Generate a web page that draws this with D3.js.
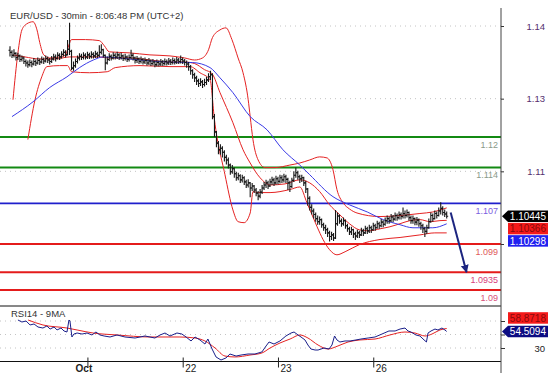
<!DOCTYPE html>
<html><head><meta charset="utf-8">
<script src="https://cdn.jsdelivr.net/npm/d3@7"></script>
<style>
html,body{margin:0;padding:0;background:#fff;}
svg{display:block;font-family:"Liberation Sans",Arial,sans-serif;}
</style></head><body>
<svg id="c" width="555" height="383"></svg>
<script>
// ---------- DATA ----------
const chartTitle = "EUR/USD - 30min - 8:06:48 PM (UTC+2)";
const rsiTitle = "RSI14 - 9MA";
const firstOpen = 1.1370;
const barClose = [
1.1366,1.1360,1.1364,1.1356,1.1359,1.1352,1.1355,1.1348,1.1345,1.1342,
1.1346,1.1343,1.1348,1.1345,1.1350,1.1347,1.1352,1.1349,1.1354,1.1351,
1.1348,1.1353,1.1357,1.1354,1.1360,1.1357,1.1362,1.1366,1.1361,1.1372,
1.1368,1.1335,1.1340,1.1348,1.1355,1.1358,1.1356,1.1360,1.1357,1.1361,
1.1358,1.1362,1.1359,1.1363,1.1360,1.1366,1.1371,1.1360,1.1345,1.1352,
1.1358,1.1355,1.1360,1.1357,1.1361,1.1356,1.1359,1.1354,1.1357,1.1352,
1.1356,1.1360,1.1355,1.1350,1.1353,1.1348,1.1352,1.1347,1.1350,1.1345,
1.1349,1.1344,1.1347,1.1342,1.1346,1.1343,1.1347,1.1344,1.1348,1.1345,
1.1349,1.1346,1.1350,1.1347,1.1351,1.1348,1.1352,1.1349,1.1346,1.1343,
1.1338,1.1330,1.1322,1.1316,1.1310,1.1305,1.1308,1.1303,1.1307,1.1312,
1.1318,1.1322,1.1240,1.1210,1.1188,1.1175,1.1178,1.1170,1.1160,1.1155,
1.1145,1.1132,1.1138,1.1128,1.1120,1.1124,1.1116,1.1120,1.1112,1.1106,
1.1110,1.1100,1.1104,1.1096,1.1090,1.1084,1.1092,1.1100,1.1106,1.1110,
1.1104,1.1112,1.1116,1.1110,1.1118,1.1113,1.1120,1.1116,1.1122,1.1117,
1.1110,1.1103,1.1115,1.1125,1.1130,1.1122,1.1118,1.1120,1.1110,1.1098,
1.1080,1.1062,1.1055,1.1048,1.1040,1.1034,1.1038,1.1028,1.1022,1.1018,
1.1012,1.1005,1.1008,1.1002,1.1030,1.1045,1.1035,1.1030,1.1036,1.1026,
1.1020,1.1014,1.1018,1.1010,1.1006,1.1012,1.1008,1.1016,1.1012,1.1020,
1.1016,1.1022,1.1018,1.1026,1.1022,1.1030,1.1026,1.1033,1.1029,1.1036,
1.1040,1.1036,1.1043,1.1039,1.1046,1.1042,1.1048,1.1044,1.1050,1.1046,
1.1052,1.1042,1.1036,1.1040,1.1033,1.1037,1.1030,1.1026,1.1020,1.1015,
1.1022,1.1034,1.1046,1.1040,1.1050,1.1046,1.1055,1.1060,1.1052,1.1049,
1.10445];
const barHigh = [
1.1378,1.1370,1.1372,1.1366,1.1365,1.1362,1.1360,1.1358,1.1352,1.1350,
1.1352,1.1350,1.1355,1.1352,1.1356,1.1354,1.1358,1.1356,1.1360,1.1358,
1.1355,1.1359,1.1363,1.1362,1.1366,1.1364,1.1368,1.1372,1.1370,1.1390,
1.1424,1.1371,1.1348,1.1354,1.1360,1.1364,1.1363,1.1366,1.1364,1.1367,
1.1365,1.1368,1.1366,1.1369,1.1367,1.1380,1.1382,1.1373,1.1362,1.1358,
1.1364,1.1362,1.1366,1.1364,1.1367,1.1364,1.1365,1.1362,1.1363,1.1360,
1.1362,1.1371,1.1364,1.1358,1.1359,1.1356,1.1358,1.1355,1.1356,1.1353,
1.1355,1.1352,1.1353,1.1350,1.1352,1.1350,1.1353,1.1351,1.1354,1.1352,
1.1355,1.1353,1.1356,1.1354,1.1357,1.1355,1.1360,1.1356,1.1353,1.1350,
1.1347,1.1341,1.1333,1.1326,1.1320,1.1314,1.1315,1.1312,1.1314,1.1318,
1.1325,1.1330,1.1325,1.1245,1.1212,1.1192,1.1186,1.1182,1.1174,1.1165,
1.1160,1.1148,1.1145,1.1140,1.1132,1.1130,1.1127,1.1126,1.1123,1.1116,
1.1117,1.1112,1.1110,1.1106,1.1100,1.1094,1.1098,1.1106,1.1112,1.1116,
1.1114,1.1118,1.1122,1.1120,1.1124,1.1122,1.1126,1.1125,1.1128,1.1126,
1.1120,1.1114,1.1120,1.1133,1.1140,1.1134,1.1126,1.1126,1.1122,1.1114,
1.1100,1.1084,1.1068,1.1060,1.1052,1.1046,1.1044,1.1040,1.1032,1.1028,
1.1022,1.1016,1.1014,1.1012,1.1057,1.1052,1.1048,1.1040,1.1042,1.1038,
1.1030,1.1024,1.1024,1.1020,1.1014,1.1018,1.1016,1.1022,1.1020,1.1026,
1.1024,1.1028,1.1026,1.1032,1.1030,1.1036,1.1034,1.1039,1.1037,1.1042,
1.1046,1.1044,1.1049,1.1047,1.1052,1.1050,1.1054,1.1052,1.1062,1.1056,
1.1058,1.1054,1.1046,1.1046,1.1042,1.1043,1.1040,1.1034,1.1030,1.1024,
1.1028,1.1040,1.1052,1.1050,1.1056,1.1054,1.1062,1.1072,1.1064,1.1058,
1.1054];
const barLow = [
1.1358,1.1355,1.1356,1.1350,1.1351,1.1347,1.1348,1.1343,1.1338,1.1336,
1.1338,1.1337,1.1340,1.1339,1.1342,1.1341,1.1344,1.1343,1.1346,1.1345,
1.1342,1.1345,1.1350,1.1348,1.1352,1.1351,1.1354,1.1358,1.1356,1.1360,
1.1361,1.1331,1.1330,1.1336,1.1344,1.1350,1.1351,1.1352,1.1352,1.1353,
1.1353,1.1354,1.1354,1.1355,1.1355,1.1357,1.1362,1.1356,1.1331,1.1342,
1.1349,1.1350,1.1352,1.1352,1.1353,1.1351,1.1352,1.1349,1.1350,1.1347,
1.1348,1.1352,1.1350,1.1344,1.1345,1.1343,1.1344,1.1342,1.1343,1.1340,
1.1341,1.1339,1.1340,1.1337,1.1338,1.1338,1.1339,1.1339,1.1340,1.1340,
1.1341,1.1341,1.1342,1.1342,1.1343,1.1343,1.1344,1.1343,1.1340,1.1336,
1.1330,1.1322,1.1314,1.1308,1.1302,1.1298,1.1300,1.1296,1.1299,1.1302,
1.1308,1.1312,1.1235,1.1200,1.1180,1.1166,1.1165,1.1160,1.1152,1.1146,
1.1138,1.1126,1.1128,1.1120,1.1114,1.1115,1.1110,1.1111,1.1106,1.1100,
1.1101,1.1082,1.1094,1.1090,1.1084,1.1076,1.1080,1.1088,1.1096,1.1100,
1.1098,1.1102,1.1106,1.1104,1.1107,1.1107,1.1109,1.1110,1.1111,1.1110,
1.1096,1.1092,1.1100,1.1112,1.1120,1.1116,1.1110,1.1112,1.1104,1.1090,
1.1065,1.1056,1.1048,1.1040,1.1034,1.1028,1.1028,1.1022,1.1016,1.1010,
1.1004,1.0995,1.0998,1.0996,1.1000,1.1026,1.1030,1.1024,1.1026,1.1020,
1.1014,1.1008,1.1008,1.1002,1.0998,1.1002,1.1002,1.1006,1.1006,1.1010,
1.1010,1.1012,1.1012,1.1016,1.1016,1.1020,1.1020,1.1023,1.1023,1.1026,
1.1030,1.1030,1.1033,1.1033,1.1036,1.1036,1.1038,1.1038,1.1040,1.1040,
1.1042,1.1036,1.1030,1.1030,1.1027,1.1027,1.1024,1.1018,1.1012,1.1004,
1.1010,1.1020,1.1032,1.1034,1.1038,1.1040,1.1044,1.1048,1.1046,1.1043,
1.1040];

// Bollinger bands and moving average, read as [bar index, price]
const bbUpper = [[1.5,1.1273],[4,1.1365],[6,1.1410],[8.5,1.1422],[11.6,1.1426],[13.6,1.1410],[15,1.1385],[17,1.1361],[20,1.1355],[25,1.1357],[28,1.1361],[29.7,1.1381],[31,1.1391],[38,1.1391],[45,1.1389],[47.5,1.1379],[50,1.1367],[60,1.1365],[70.5,1.1361],[80.6,1.1359],[88,1.1355],[93,1.1351],[97,1.1355],[100,1.1371],[102,1.1395],[105.8,1.1410],[108.8,1.1414],[111.8,1.1391],[114.9,1.1355],[117.4,1.1326],[120,1.1273],[121,1.1240],[122.4,1.1195],[125,1.1155],[128.5,1.1140],[133.5,1.1140],[141,1.1145],[146,1.1149],[151,1.1155],[156,1.1161],[159.7,1.1159],[162.7,1.1136],[164.7,1.1097],[167.8,1.1071],[171,1.1059],[174.8,1.1051],[186.4,1.1044],[196.5,1.1046],[206.5,1.1050],[213,1.1053],[220,1.1061]];
const bbMiddle = [[1.5,1.1361],[7.5,1.1357],[15,1.1353],[22.7,1.1353],[30,1.1357],[38,1.1357],[45,1.1357],[50,1.1355],[60,1.1355],[70.5,1.1351],[80.6,1.1347],[88,1.1347],[93,1.1344],[98,1.1332],[101.8,1.1324],[105.8,1.1287],[112.3,1.1228],[117.4,1.1175],[121,1.1149],[126,1.1120],[131,1.1106],[138.5,1.1108],[146,1.1116],[151,1.1110],[156,1.1093],[161,1.1067],[166,1.1048],[171,1.1030],[176,1.1018],[181,1.1016],[186.4,1.1020],[191.4,1.1024],[196.5,1.1030],[201.5,1.1036],[206.5,1.1038],[211.6,1.1034],[216.6,1.1036],[220,1.10366]];
const bbLower = [[9,1.1195],[12.6,1.1273],[16,1.1318],[18.6,1.1338],[25,1.1340],[29,1.1340],[31,1.1328],[40,1.1326],[49,1.1328],[53,1.1336],[65.5,1.1340],[80.6,1.1338],[90.7,1.1338],[95.7,1.1326],[100.8,1.1312],[103,1.1234],[108.3,1.1126],[112.3,1.1057],[114.9,1.1034],[117.9,1.1032],[121,1.1051],[122.4,1.1093],[125,1.1091],[131,1.1091],[141,1.1097],[146,1.1102],[149.6,1.1071],[154.7,1.1024],[157.7,1.0999],[161,1.0979],[164.7,1.0969],[168.8,1.0975],[176,1.0989],[186.4,1.0999],[196.5,1.1003],[206.5,1.1008],[214,1.1012],[220,1.1012]];
const maLine = [[1,1.1240],[11.6,1.1269],[20,1.1297],[28.7,1.1318],[35,1.1336],[42,1.1351],[47,1.1357],[55,1.1355],[65.5,1.1351],[79,1.1347],[92,1.1346],[100.8,1.1336],[105.8,1.1316],[112.3,1.1287],[121,1.1240],[129.5,1.1214],[137.5,1.1175],[146,1.1145],[151,1.1126],[162.7,1.1083],[171,1.1067],[180,1.1053],[188,1.1038],[196.5,1.1028],[203,1.1022],[213,1.1022],[220,1.10298]];

// RSI(14) and its 9-period MA, read as [bar index, value]
const rsiLine = [[4,71.5],[6,68.5],[8.1,70.0],[10.1,64.1],[12.1,65.6],[14.1,61.1],[16.6,59.6],[18.6,62.6],[20.2,58.1],[22.2,61.1],[23.7,56.7],[25.7,59.6],[27.2,55.2],[28.7,53.7],[29.7,71.5],[30.2,70.0],[31.2,46.3],[32.2,50.7],[33.8,52.2],[36.3,50.7],[38.8,52.2],[41.3,49.3],[43.3,53.7],[45.3,49.3],[47.4,47.8],[50.4,46.3],[53.9,49.3],[57.9,46.3],[63,44.8],[68,47.8],[73,44.8],[75.6,49.3],[78.1,52.2],[80.6,47.8],[84.1,52.2],[86.6,50.7],[88.7,46.3],[91.2,40.4],[93.2,46.3],[95.7,41.9],[98.2,35.9],[99.7,43.3],[101.8,28.5],[103.8,16.7],[106.3,12.2],[108.8,15.2],[110.8,21.1],[113.9,18.1],[116.4,19.6],[119.9,21.1],[123.4,21.1],[126.9,24.1],[129,33.0],[130.5,38.9],[133,35.9],[136,40.4],[139,47.8],[141.6,52.2],[143.1,53.7],[145.1,49.3],[146.6,46.3],[148.6,41.9],[150.1,34.4],[151.6,28.5],[153.7,27.0],[155.2,27.0],[158.2,30.0],[160.7,28.5],[162.2,34.4],[163.5,47.8],[164.7,41.9],[166.2,38.9],[168.8,40.4],[171.3,40.4],[174.3,41.9],[176.8,43.3],[180.4,44.8],[183.9,46.3],[187.4,50.7],[190.9,55.2],[194,55.2],[196.5,58.1],[199,59.6],[200.5,55.2],[202,53.7],[204.5,49.3],[206.5,47.8],[208.6,41.9],[209.8,38.9],[210.6,52.2],[212.1,55.2],[214.1,58.1],[215.6,56.7],[217.6,59.6],[219.1,56.7],[220,54.5094]];
const rsiMaLine = [[9.1,71.5],[16.6,64.1],[28.7,59.6],[33.8,56.7],[41.8,52.2],[53.9,49.3],[70.5,46.3],[85.6,46.3],[93.2,44.8],[98.2,40.4],[103.3,30.0],[108.3,18.1],[113.4,16.7],[120.9,19.6],[126.9,22.6],[131,30.0],[136,37.4],[141.1,43.3],[146.1,49.3],[150.1,44.8],[155.2,34.4],[160.2,28.5],[165.2,33.0],[170.3,38.9],[176.3,41.9],[183.9,43.3],[191.4,49.3],[199,53.7],[204,52.2],[209.1,47.8],[212.6,50.7],[216.6,56.7],[220,58.8718]];

const levelValues = [1.12, 1.114, 1.107, 1.099, 1.0935, 1.09];
const levelLabels = ["1.12", "1.114", "1.107", "1.099", "1.0935", "1.09"];
const priceTickLabels = ["1.14", "1.13", "1.11", "1.10"];
const priceTickShown = ["1.14", "1.13", "1.11"];
const rsiTickValues = [70, 50, 30];
const rsiTickShown = [30];
const dayTickIndex = [39, 87, 135, 183];
const dayTickLabels = ["Oct", "22", "23", "26"];
const lastPrice = 1.10445, lastBbMiddle = 1.10366, lastMa = 1.10298;
const lastRsi = 54.5094, lastRsiMa = 58.8718;
const arrowFrom = [222, 1.1052], arrowTo = [230, 1.0935];

// ---------- STYLE ----------
const levelStroke = ["#138a13","#138a13","#1f1fcc","#e41b1b","#e41b1b","#e41b1b"];
const levelWidth = [2,2,1.8,2,2,2];
const levelText = ["#8a9a8a","#8a9a8a","#7a5ee0","#e05a5a","#d8407a","#d8507a"];

const svg = d3.select("#c");
const AX = 501;
const x = d3.scaleLinear().domain([0, 220]).range([10, 446.7]);
const y = d3.scaleLinear().domain([1.09, 1.12]).range([290, 137]);
const yTick = d3.scalePoint().domain(priceTickLabels).range([26, 244]);
const r = d3.scaleLinear().domain([30, 70]).range([348, 321]);

// titles
svg.append("text").attr("x", 10).attr("y", 18.5).attr("font-size", 9.5).attr("fill", "#333").text(chartTitle);
svg.append("text").attr("x", 11).attr("y", 317).attr("font-size", 9.5).attr("fill", "#333").text(rsiTitle);

// dotted grid
const grid = svg.append("g").attr("stroke", "#c4c4c4").attr("stroke-dasharray", "1,4");
grid.selectAll("line.p").data(priceTickLabels).join("line").attr("class","p")
  .attr("x1", 0).attr("x2", AX).attr("y1", d => yTick(d)).attr("y2", d => yTick(d));
grid.selectAll("line.r").data(rsiTickValues).join("line").attr("class","r")
  .attr("x1", 0).attr("x2", AX).attr("y1", d => r(d)).attr("y2", d => r(d));

// level lines
svg.append("g").selectAll("line").data(levelValues).join("line")
  .attr("x1", 0).attr("x2", AX).attr("y1", d => y(d)).attr("y2", d => y(d))
  .attr("stroke", (d,i) => levelStroke[i]).attr("stroke-width", (d,i) => levelWidth[i]);

// bands & MA
const pl = d3.line().x(d => x(d[0])).y(d => y(d[1])).curve(d3.curveMonotoneX);
[bbUpper, bbMiddle, bbLower].forEach(b => svg.append("path").attr("d", pl(b)).attr("fill","none").attr("stroke","#e52222").attr("stroke-width",1));
svg.append("path").attr("d", pl(maLine)).attr("fill","none").attr("stroke","#3a3ae6").attr("stroke-width",1);

// OHLC bars
const bars = barClose.map((c, i) => ({i, o: i ? barClose[i-1] : firstOpen, h: barHigh[i], l: barLow[i], c}));
svg.append("g").attr("stroke", "#161616").attr("stroke-width", 1.1).attr("fill","none")
  .selectAll("path").data(bars).join("path")
  .attr("d", d => `M${x(d.i)},${y(d.h)}V${y(d.l)}M${x(d.i)-1.5},${y(d.o)}H${x(d.i)}M${x(d.i)},${y(d.c)}H${x(d.i)+1.5}`);

// level labels
svg.append("g").selectAll("text").data(levelValues).join("text")
  .attr("x", 498).attr("y", d => y(d) + 10.5).attr("text-anchor", "end")
  .attr("font-size", 9).attr("fill", (d,i) => levelText[i]).text((d,i) => levelLabels[i]);

// forecast arrow
const defs = svg.append("defs");
defs.append("marker").attr("id","ah").attr("viewBox","0 0 10 10").attr("refX",9).attr("refY",5)
  .attr("markerWidth",4).attr("markerHeight",4.5).attr("orient","auto")
  .append("path").attr("d","M0,0L10,5L0,10Z").attr("fill","#1c2580");
svg.append("line").attr("x1", x(arrowFrom[0])).attr("y1", y(arrowFrom[1]))
  .attr("x2", x(arrowTo[0])).attr("y2", y(arrowTo[1]))
  .attr("stroke","#1c2580").attr("stroke-width",2).attr("marker-end","url(#ah)");

// RSI panel
svg.append("path").attr("d", d3.line().x(d => x(d[0])).y(d => r(d[1])).curve(d3.curveMonotoneX)(rsiMaLine))
  .attr("fill","none").attr("stroke","#e52222").attr("stroke-width",1);
svg.append("path").attr("d", d3.line().x(d => x(d[0])).y(d => r(d[1]))(rsiLine))
  .attr("fill","none").attr("stroke","#1a1f8a").attr("stroke-width",1);

// panel borders
svg.append("line").attr("x1",0).attr("x2",AX).attr("y1",306).attr("y2",306).attr("stroke","#111");
svg.append("line").attr("x1",0).attr("x2",AX).attr("y1",361.5).attr("y2",361.5).attr("stroke","#111");
svg.append("line").attr("x1",AX).attr("x2",AX).attr("y1",8).attr("y2",373).attr("stroke","#444");

// x axis
const xa = svg.append("g").attr("transform","translate(0,361.5)")
  .call(d3.axisBottom(x).tickValues(dayTickIndex).tickFormat((d,i) => dayTickLabels[i]).tickSize(5));
xa.select(".domain").remove();
xa.selectAll(".tick line").attr("y1",-4).attr("y2",6).attr("stroke","#222");
xa.selectAll(".tick text").attr("font-family",null).attr("font-size",10).attr("fill","#222")
  .attr("y",10.5).attr("dy",0).attr("text-anchor",(d,i) => i === 0 ? "middle" : "start")
  .attr("x",(d,i) => i === 0 ? -4 : 2).attr("font-weight",(d,i) => i === 0 ? "bold" : null);

// right price axis (labels hidden behind value boxes are not drawn)
const ya = svg.append("g").attr("transform",`translate(${AX},0)`)
  .call(d3.axisRight(yTick).tickSize(3).tickFormat(d => priceTickShown.includes(d) ? d : ""));
ya.select(".domain").remove();
ya.selectAll(".tick line").attr("stroke","#333");
ya.selectAll(".tick text").attr("font-family",null).attr("font-size",9.5).attr("fill","#55306e")
  .attr("x",44).attr("text-anchor","end");
const ra = svg.append("g").attr("transform",`translate(${AX},0)`)
  .call(d3.axisRight(r).tickValues(rsiTickValues).tickSize(4).tickFormat(d => rsiTickShown.includes(d) ? d : ""));
ra.select(".domain").remove();
ra.selectAll(".tick line").attr("stroke","#333");
ra.selectAll(".tick text").attr("font-family",null).attr("font-size",9.5).attr("fill","#222")
  .attr("x",44).attr("text-anchor","end");

// value boxes
function box(yc, txt, fill, tcol, arrow) {
  const g = svg.append("g");
  const top = yc - 5.75, h = 11.5;
  if (arrow) {
    g.append("path").attr("d",`M${AX+1},${yc}L${AX+7},${top}H548V${top+h}H${AX+7}Z`).attr("fill",fill);
  } else {
    g.append("rect").attr("x",AX+7).attr("y",top).attr("width",548-AX-7).attr("height",h).attr("fill",fill);
  }
  g.append("text").attr("x",546).attr("y",yc+3.6).attr("text-anchor","end").attr("font-size",10)
    .attr("fill",tcol).text(txt);
}
const b1 = y(lastPrice);
box(b1, d3.format(".5f")(lastPrice), "#000", "#fff", true);
box(b1 + 12.3, d3.format(".5f")(lastBbMiddle), "#f41a1a", "#8a0a0a", false);
box(b1 + 24.6, d3.format(".5f")(lastMa), "#2020f0", "#fff", false);
const rb = r(lastRsi);
box(rb, d3.format(".4f")(lastRsi), "#0c0c82", "#fff", true);
box(rb - 13.5, d3.format(".4f")(lastRsiMa), "#f41a1a", "#8a0a0a", false);
</script>
</body></html>
